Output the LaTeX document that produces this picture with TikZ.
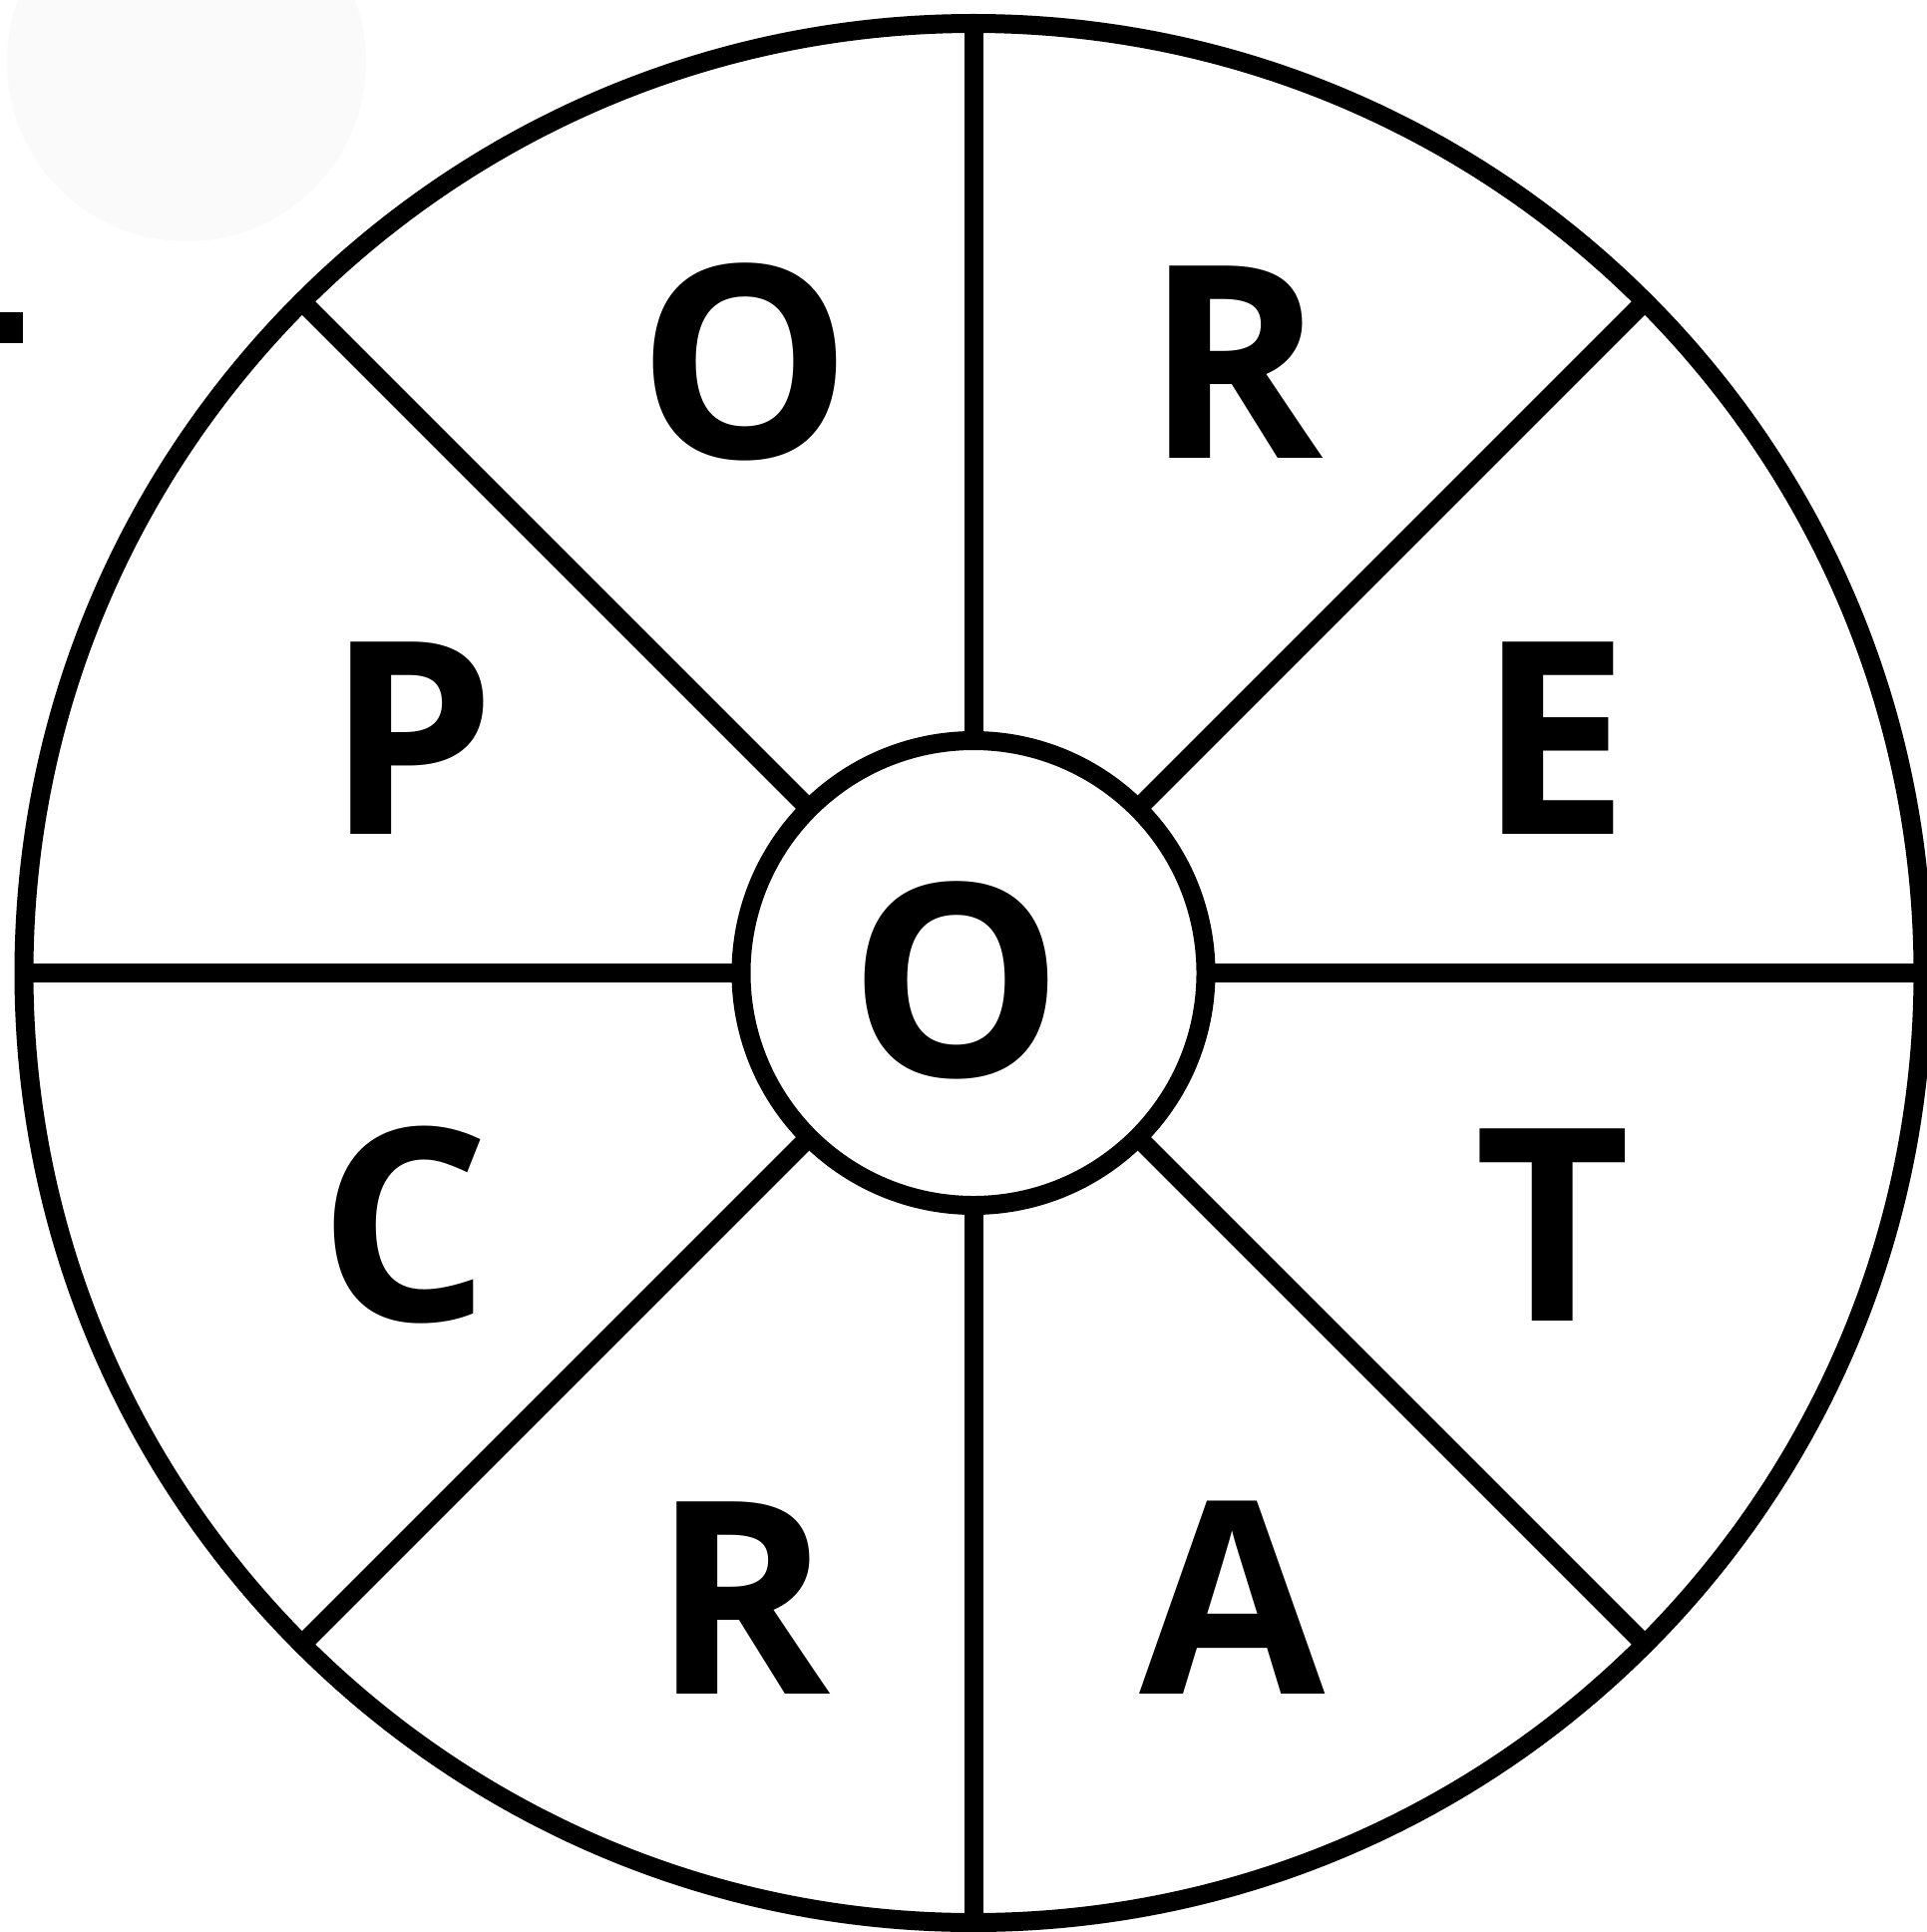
\documentclass[tikz,border=0pt]{standalone}
\usepackage{fontspec}
\newfontfamily\letterfont{Open Sans}
\definecolor{faintgray}{HTML}{FAFAFA}
\tikzset{
  ring/.style={circle, draw=black, line width=19pt, fill=white, inner sep=0pt, outer sep=0pt},
  spoke/.style={draw=black, line width=19pt},
  letter/.style={font=\letterfont\bfseries\fontsize{270}{270}\selectfont, inner sep=0pt, anchor=base, text=black}
}
\begin{document}
\begin{tikzpicture}[x=1pt,y=-1pt]
\useasboundingbox (0,0) rectangle (1931,1937);
\fill[white] (0,0) rectangle (1931,1937);
% faint background disc and cut-off mark
\fill[faintgray] (187,62) circle[radius=180];
\fill[black] (0,313) rectangle (23,344);
% rings
\node[ring, minimum size=1904pt] (outer) at (976,975.5) {};
\node[ring, minimum size=466pt] (inner) at (976,975.5) {};
% spokes
\foreach \a in {0,45,...,315}{
  \draw[spoke] (inner.\a) -- (outer.\a);
}
% letters
\node[letter] (lO1) at (747,459) {O};
\node[letter] (lR1) at (1238,459.6) {R};
\node[letter] (lP)  at (412,836.4) {P};
\node[letter] (lE)  at (1558,836.4) {E};
\node[letter] (lO2) at (959,1079) {O};
\node[letter] (lC)  at (406,1324.5) {C};
\node[letter] (lT)  at (1557,1324.5) {T};
\node[letter] (lR2) at (744,1698.8) {R};
\node[letter] (lA)  at (1235.5,1698.8) {A};
\end{tikzpicture}
\end{document}
